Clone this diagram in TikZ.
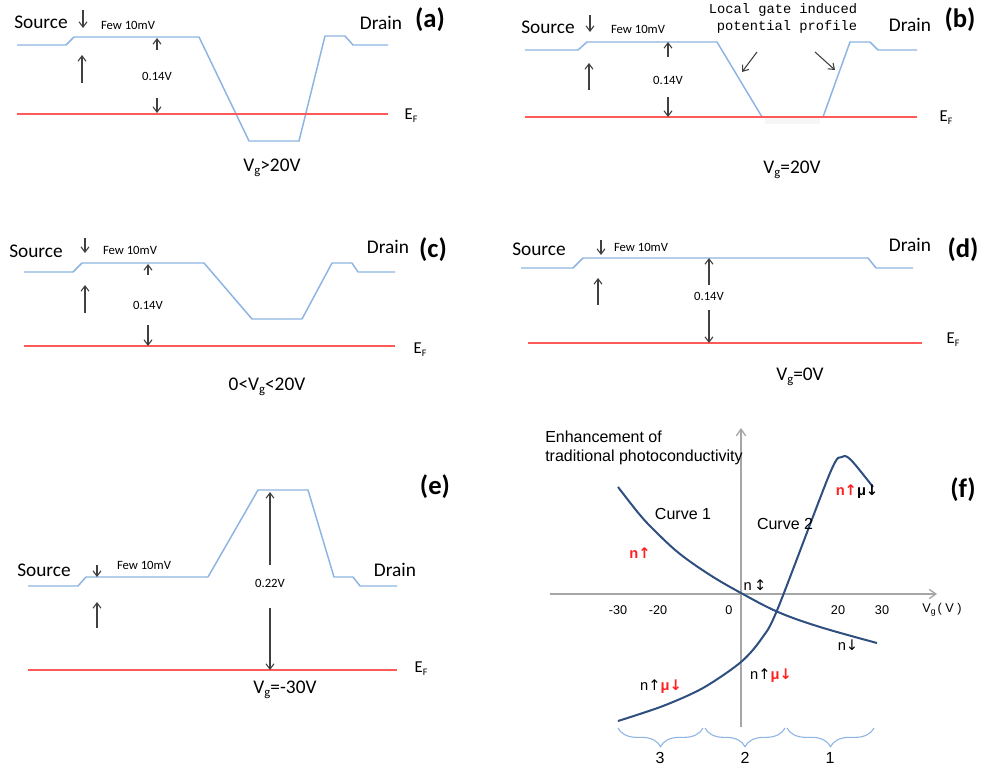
\documentclass[tikz,border=0pt]{standalone}
\usepackage{fontspec}
\setmainfont{Carlito}
\newfontfamily\arialf{Liberation Sans}
\newfontfamily\monof{Liberation Mono}
\newfontfamily\arrf{DejaVu Sans}
\usetikzlibrary{arrows.meta,decorations.pathreplacing}
\definecolor{bandblue}{HTML}{8EB4E3}
\definecolor{fermired}{HTML}{FF5A5A}
\definecolor{curveblue}{HTML}{2E4F7F}
\definecolor{axisgray}{HTML}{A6A6A6}
\definecolor{arrgray}{HTML}{404040}
\definecolor{labred}{HTML}{FF2020}
\newcommand\fsz[1]{\fontsize{#1}{#1}\selectfont}
\newcommand\mysub[2]{\raisebox{-0.35ex}{\fontsize{#1}{#1}\selectfont #2}}
\newcommand\ua{{\arrf\fsz{11pt}↑}}
\newcommand\da{{\arrf\fsz{11pt}↓}}
\begin{document}
\begin{tikzpicture}[x=0.75pt,y=-0.75pt,
  band/.style={draw=bandblue, line width=1.1pt, line join=round},
  fermi/.style={draw=fermired, line width=1.1pt},
  varr/.style={draw=arrgray, line width=0.8pt, -{Straight Barb[length=4pt,width=6pt]}},
  lbl/.style={font=\fsz{14.5pt}, inner sep=0},
  small/.style={font=\fsz{9.5pt}, inner sep=0},
  tag/.style={font=\bfseries\fsz{20pt}, inner sep=0},
  ef/.style={font=\fsz{12.5pt}, inner sep=0},
  vg/.style={font=\fsz{14.5pt}, inner sep=0},
  mono/.style={font=\monof\fsz{10.3pt}, inner sep=0},
  ftxt/.style={font=\arialf\fsz{12pt}, inner sep=0},
  ftick/.style={font=\arialf\fsz{9.5pt}, inner sep=0},
  fbold/.style={font=\arialf\bfseries\fsz{11pt}, inner sep=0},
  curve/.style={draw=curveblue, line width=1.5pt},
  axis/.style={draw=axisgray, line width=1pt, -{Straight Barb[length=5pt,width=7pt]}},
  brc/.style={draw=bandblue, line width=0.8pt, decorate, decoration={brace, mirror, amplitude=14pt}}
]
\useasboundingbox (0,0) rectangle (984,767);
\fill[white] (0,0) rectangle (984,767);

% ---------------- (a)
\draw[band] (17,45) -- (66,45) -- (74,37) -- (199,37) -- (249,141) -- (299,141) -- (325,36) -- (345,36) -- (353,45) -- (388,45);
\draw[fermi] (17,114) -- (388,114);
\node[lbl] (aS) at (41,22) {Source};
\node[small] (aF) at (128,25) {Few 10mV};
\node[lbl] (aD) at (381,23) {Drain};
\node[tag] (aT) at (430,20) {(a)};
\node[small] (aV) at (157,76) {0.14V};
\node[ef] (aE) at (411,116) {E\mysub{7.5pt}{F}};
\node[vg] (aG) at (272,168) {V\mysub{9.5pt}{g}>20V};
\draw[varr] (83,10) -- (83,28);
\draw[varr] (82,83) -- (82,55);
\draw[varr] (157,50) -- (157,38);
\draw[varr] (157,98) -- (157,113);

% ---------------- (b)
\fill[gray!7] (765,118) rectangle (820,124);
\draw[band] (525,50) -- (578,50) -- (587,42) -- (717,42) -- (762,117) -- (823,117) -- (850,42) -- (870,42) -- (878,50) -- (917,50);
\draw[fermi] (525,117) -- (917,117);
\node[lbl] (bS) at (548,27) {Source};
\node[small] (bF) at (638,29) {Few 10mV};
\node[lbl] (bD) at (910,25) {Drain};
\node[tag] (bT) at (960,20) {(b)};
\node[small] (bV) at (668,80) {0.14V};
\node[ef] (bE) at (946,118) {E\mysub{7.5pt}{F}};
\node[vg] (bG) at (792,170) {V\mysub{9.5pt}{g}=20V};
\node[mono] (bL1) at (783,10) {Local gate induced};
\node[mono] (bL2) at (787,27) {potential profile};
\draw[varr] (590,15) -- (590,32);
\draw[varr] (589,90) -- (589,63);
\draw[varr] (668,57) -- (668,42);
\draw[varr] (668,97) -- (668,117);
\draw[varr] (757,52) -- (742,72);
\draw[varr] (815,52) -- (835,70);

% ---------------- (c)
\draw[band] (24,272) -- (73,272) -- (82,263) -- (204,263) -- (252,319) -- (302,319) -- (332,263) -- (352,263) -- (358,272) -- (395,272);
\draw[fermi] (24,346) -- (395,346);
\node[lbl] (cS) at (36,251) {Source};
\node[small] (cF) at (130,250) {Few 10mV};
\node[lbl] (cD) at (388,247) {Drain};
\node[tag] (cT) at (433,250) {(c)};
\node[small] (cV) at (148,305) {0.14V};
\node[ef] (cE) at (420,350) {E\mysub{7.5pt}{F}};
\node[vg] (cG) at (267,387) {0<V\mysub{9.5pt}{g}<20V};
\draw[varr] (85,238) -- (85,253);
\draw[varr] (85,313) -- (85,285);
\draw[varr] (148,275) -- (148,264);
\draw[varr] (148,325) -- (148,346);

% ---------------- (d)
\draw[band] (521,268) -- (573,268) -- (583,258) -- (868,258) -- (876,268) -- (913,268);
\draw[fermi] (528,343) -- (922,343);
\node[lbl] (dS) at (539,249) {Source};
\node[small] (dF) at (641,247) {Few 10mV};
\node[lbl] (dD) at (910,245) {Drain};
\node[tag] (dT) at (963,250) {(d)};
\node[small] (dV) at (709,296) {0.14V};
\node[ef] (dE) at (953,340) {E\mysub{7.5pt}{F}};
\node[vg] (dG) at (800,377) {V\mysub{9.5pt}{g}=0V};
\draw[varr] (601,240) -- (601,255);
\draw[varr] (598,305) -- (598,278);
\draw[varr] (709,285) -- (709,258);
\draw[varr] (709,310) -- (709,343);

% ---------------- (e)
\draw[band] (28,586) -- (78,586) -- (86,577) -- (208,577) -- (258,490) -- (308,490) -- (334,577) -- (353,577) -- (360,586) -- (397,586);
\draw[fermi] (28,670) -- (397,670);
\node[lbl] (eS) at (44,570) {Source};
\node[small] (eF) at (144,565) {Few 10mV};
\node[lbl] (eD) at (395,570) {Drain};
\node[tag] (eT) at (435,487) {(e)};
\node[small] (eV) at (270,583) {0.22V};
\node[ef] (eE) at (421,669) {E\mysub{7.5pt}{F}};
\node[vg] (eG) at (285,690) {V\mysub{9.5pt}{g}=-30V};
\draw[varr] (97,565) -- (97,577);
\draw[varr] (97,628) -- (97,602);
\draw[varr] (270,565) -- (270,492);
\draw[varr] (270,608) -- (270,670);

% ---------------- (f)
\coordinate (fy0) at (741,727);
\coordinate (fy1) at (741,428);
\coordinate (fx0) at (550,594);
\coordinate (fx1) at (937,594);
\draw[axis] (fy0) -- (fy1);
\draw[axis] (fx0) -- (fx1);
\draw[curve] plot[smooth, tension=0.6] coordinates {(618,487) (640,515) (657,533) (680,554) (710,575) (741,593) (778,612) (820,627) (877,643)};
\draw[curve] plot[smooth, tension=0.5] coordinates {(618,721) (663,706) (703,688) (741,662) (762,638) (778,608) (830,473) (842,457) (851,460) (873,487)};
\node[ftxt, anchor=west] (fT1) at (545,437) {Enhancement of};
\node[ftxt, anchor=west] (fT2) at (545,457) {traditional photoconductivity};
\node[ftxt] (fC1) at (683,514) {Curve 1};
\node[ftxt] (fC2) at (785,524) {Curve 2};
\node[ftick] (t1) at (618,610) {-30};
\node[ftick] (t2) at (658,610) {-20};
\node[ftick] (t3) at (729,610) {0};
\node[ftick] (t4) at (838,610) {20};
\node[ftick] (t5) at (882,610) {30};
\node[ftick] (t6) at (942,610) {V\mysub{6.5pt}{g}\,( V )};
\node[fbold, text=labred] (l1) at (640,553) {n\ua};
\node[fbold, font=\arialf\fsz{11pt}] (l2) at (755,585) {n\,{\arrf\fsz{11pt}↕}};
\node[fbold] (l3) at (857,492) {\textcolor{labred}{n\ua}μ\da};
\node[fbold, font=\arialf\fsz{11pt}] (l4) at (848,645) {n\da};
\node[fbold] (l5) at (661,687) {{\mdseries n\ua}\textcolor{labred}{μ\da}};
\node[fbold] (l6) at (771,676) {{\mdseries n\ua}\textcolor{labred}{μ\da}};
\node[tag] (fT) at (963,490) {(f)};
\coordinate (b0) at (618,728);
\coordinate (b1) at (703,728);
\coordinate (b2) at (705,728);
\coordinate (b3) at (785,728);
\coordinate (b4) at (787,728);
\coordinate (b5) at (874,728);
\draw[brc] (b0) -- (b1);
\draw[brc] (b2) -- (b3);
\draw[brc] (b4) -- (b5);
\node[ftxt] (n3) at (660,758) {3};
\node[ftxt] (n2) at (745,758) {2};
\node[ftxt] (n1) at (830,758) {1};
\end{tikzpicture}
\end{document}
